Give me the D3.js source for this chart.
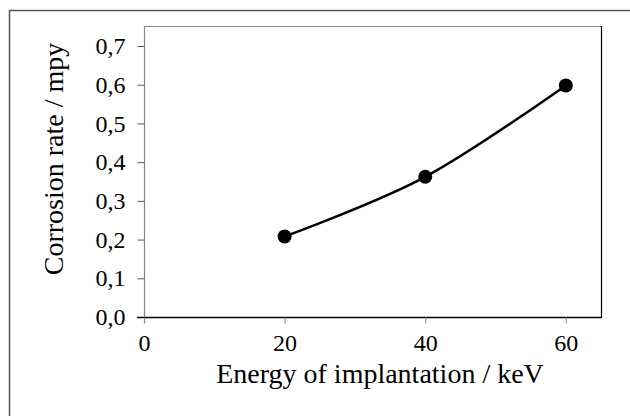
<!DOCTYPE html>
<html><head><meta charset="utf-8">
<script src="https://cdn.jsdelivr.net/npm/d3@7"></script>
<style>html,body{margin:0;padding:0;background:#fff;overflow:hidden}
svg text{font-family:'Liberation Serif','Times New Roman',serif}</style>
</head><body>
<svg id="c" width="630" height="416"></svg>
<script>
const energies = [20, 40, 60];
const corrosion = [0.208, 0.362, 0.598];
const xTicks = [0, 20, 40, 60];
const yTicks = [0, 0.1, 0.2, 0.3, 0.4, 0.5, 0.6, 0.7];
const xTitle = "Energy of implantation / keV";
const yTitle = "Corrosion rate / mpy";

const svg = d3.select("#c");
const font = "'Liberation Serif','Times New Roman',serif";
const L = 144, R = 601, T = 26, B = 317;
const x = d3.scaleLinear().domain([0, 65]).range([L, R]);
const y = d3.scaleLinear().domain([0, 0.7]).range([B, 46]);

// outer frame
svg.append("rect").attr("x", 9.5).attr("y", 10.5).attr("width", 640).attr("height", 420)
  .attr("fill", "none").attr("stroke", "#555").attr("stroke-width", 1.5);

// plot box
svg.append("line").attr("x1", L).attr("x2", R).attr("y1", T + 0.5).attr("y2", T + 0.5).attr("stroke", "#888").attr("stroke-width", 1.2);
svg.append("line").attr("x1", R + 0.5).attr("x2", R + 0.5).attr("y1", T).attr("y2", B).attr("stroke", "#000").attr("stroke-width", 1.2);

// y axis
const yAxis = svg.append("g").attr("transform", `translate(${L + 0.5},0)`)
  .call(d3.axisLeft(y).tickValues(yTicks).tickSize(7).tickPadding(12)
    .tickFormat(d => d3.format(".1f")(d).replace(".", ",")));
yAxis.attr("font-family", font).attr("font-size", 24);
yAxis.select(".domain").attr("d", `M0,${T}V${B + 6}`).attr("stroke", "#888").attr("stroke-width", 1.2);
yAxis.selectAll(".tick line").attr("stroke", "#555");
yAxis.selectAll("text").attr("fill", "#000");

// x axis
const xAxis = svg.append("g").attr("transform", `translate(0,${B + 0.5})`)
  .call(d3.axisBottom(x).tickValues(xTicks).tickSize(6).tickPadding(10).tickFormat(d3.format("d")));
xAxis.attr("font-family", font).attr("font-size", 24);
xAxis.select(".domain").attr("d", `M${L - 7},0H${R + 1}`).attr("stroke", "#000").attr("stroke-width", 1.4);
xAxis.selectAll(".tick line").attr("stroke", "#888");
xAxis.selectAll("text").attr("fill", "#000");

// titles
svg.append("text").attr("x", 380).attr("y", 383).attr("text-anchor", "middle")
  .attr("font-family", font).attr("font-size", 28).text(xTitle);
svg.append("text").attr("transform", "translate(63,159) rotate(-90)").attr("text-anchor", "middle")
  .attr("font-family", font).attr("font-size", 28).text(yTitle);

// series
const pts = energies.map((e, i) => [e, corrosion[i]]);
const line = d3.line().x(d => x(d[0])).y(d => y(d[1])).curve(d3.curveCardinal.tension(0));
svg.append("path").datum(pts).attr("d", line).attr("fill", "none").attr("stroke", "#000").attr("stroke-width", 2.5);
svg.selectAll("circle.pt").data(pts).enter().append("circle").attr("class", "pt")
  .attr("cx", d => x(d[0])).attr("cy", d => y(d[1])).attr("r", 7).attr("fill", "#000");
</script>
</body></html>
